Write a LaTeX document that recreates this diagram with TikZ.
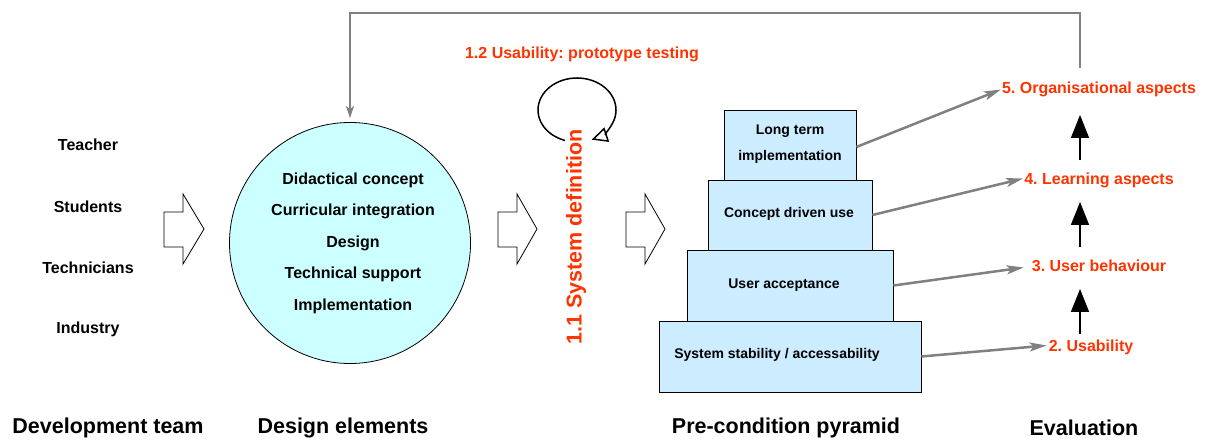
\documentclass[tikz,border=0pt]{standalone}
\usepackage{fontspec}
\setmainfont{Liberation Sans}
\usetikzlibrary{arrows.meta}
\definecolor{evred}{RGB}{255,51,0}
\definecolor{circfill}{RGB}{204,255,255}
\definecolor{boxfill}{RGB}{204,236,255}
\definecolor{lgray}{RGB}{128,128,128}
\begin{document}
\frenchspacing
\begin{tikzpicture}[x=1pt,y=-1pt,
 lbl/.style={font=\fontsize{16}{19}\selectfont\bfseries, inner sep=0pt},
 ttl/.style={font=\fontsize{21.5}{25}\selectfont\bfseries, inner sep=0pt},
 evl/.style={font=\fontsize{16}{19}\selectfont\bfseries, text=evred, inner sep=0pt, text height=12pt, text depth=3.5pt},
 pbox/.style={draw, fill=boxfill, line width=0.8pt, inner sep=0pt},
 btxt/.style={font=\fontsize{14}{26}\selectfont\bfseries, align=center, inner sep=0pt},
 blockarrow/.style={draw, fill=white, line width=0.8pt},
 garrow/.style={draw=lgray, line width=2.5pt, -{Stealth[length=17pt,width=9pt,inset=4pt]}},
 fline/.style={draw=lgray, line width=2pt, -{Stealth[length=12pt,width=8pt,inset=3pt]}},
 barrow/.style={draw, line width=1.5pt, -{Triangle[length=23pt,width=18pt]}},
]
\useasboundingbox (0,0) rectangle (1212,441);

% left labels
\node[lbl] (teacher) at (88,145) {Teacher};
\node[lbl] (students) at (88,207) {Students};
\node[lbl] (techs) at (88,268) {Technicians};
\node[lbl] (industry) at (88,329) {Industry};

% block arrows
\draw[blockarrow] (164,212) -- (183,212) -- (183,194) -- (204,229) -- (183,264) -- (183,247) -- (164,247) -- cycle;
\draw[blockarrow] (498,212) -- (517,212) -- (517,194) -- (537,229) -- (517,264) -- (517,247) -- (498,247) -- cycle;
\draw[blockarrow] (626,212) -- (645,212) -- (645,194) -- (665,229) -- (645,264) -- (645,247) -- (626,247) -- cycle;

% circle
\node[draw, circle, fill=circfill, line width=0.8pt, minimum size=241pt, inner sep=0pt] (circ) at (350,243) {};
\node[font=\fontsize{16}{31.5}\selectfont\bfseries, align=center, inner sep=0pt] (circtxt) at (353,243)
 {Didactical concept\\Curricular integration\\Design\\Technical support\\Implementation};

% system definition
\node[font=\fontsize{21.5}{25}\selectfont\bfseries, text=evred, rotate=90, inner sep=0pt] (sysdef) at (576,237) {1.1 System definition};
\node[evl] (proto) at (582,54) {1.2 Usability: prototype testing};
\coordinate (loopc) at (577,110);
\draw[line width=1.5pt, -{Triangle[open,length=16pt,width=15pt]}]
  ([shift={(108:39 and 32)}]loopc) arc[start angle=108, end angle=428, x radius=39, y radius=32];

% pyramid
\node[pbox, minimum width=262pt, minimum height=71pt] (b1) at (790,356.5) {};
\node[pbox, minimum width=206pt, minimum height=71pt] (b2) at (790,285.5) {};
\node[pbox, minimum width=164pt, minimum height=70pt] (b3) at (790,215) {};
\node[pbox, minimum width=132pt, minimum height=70pt] (b4) at (790,145) {};
\node[btxt] (t4) at (790,144) {Long term\\implementation};
\node[btxt] (t3) at (789,214) {Concept driven use};
\node[btxt] (t2) at (784,285) {User acceptance};
\node[btxt] (t1) at (777,355) {System stability / accessability};

% evaluation labels
\node[evl] (e5) at (1099,89.5) {5. Organisational aspects};
\node[evl] (e4) at (1099,180.5) {4. Learning aspects};
\node[evl] (e3) at (1099,267.5) {3. User behaviour};
\node[evl] (e2) at (1091,347.5) {2. Usability};

\draw[garrow] (b4.east) ++(0,2) -- ([xshift=-1pt]e5.west);
\draw[garrow] (b3.east) -- ([xshift=-1pt,yshift=2pt]e4.west);
\draw[garrow] (b2.east) -- ([xshift=-8pt]e3.west);
\draw[garrow] (b1.east) -- ([xshift=-2pt,yshift=2pt]e2.west);

% black arrows
\coordinate (ax) at (1080,0);
\draw[barrow] ([yshift=5.5pt]e2.north -| ax) -- ([yshift=-13.5pt]e3.south -| ax);
\draw[barrow] ([yshift=12.5pt]e3.north -| ax) -- ([yshift=-13.5pt]e4.south -| ax);
\draw[barrow] ([yshift=12.5pt]e4.north -| ax) -- ([yshift=-17.5pt]e5.south -| ax);

% feedback loop
\coordinate (ftop) at (1080,13);
\draw[fline] ([yshift=14pt]e5.north -| ax) -- (ftop) -| ([yshift=4pt]circ.north);

% titles
\node[ttl] (tdev) at (108,428) {Development team};
\node[ttl] (tdes) at (343,428) {Design elements};
\node[ttl] (tpyr) at (786,428) {Pre-condition pyramid};
\node[ttl] (teval) at (1084,428) {Evaluation};
\end{tikzpicture}
\end{document}
